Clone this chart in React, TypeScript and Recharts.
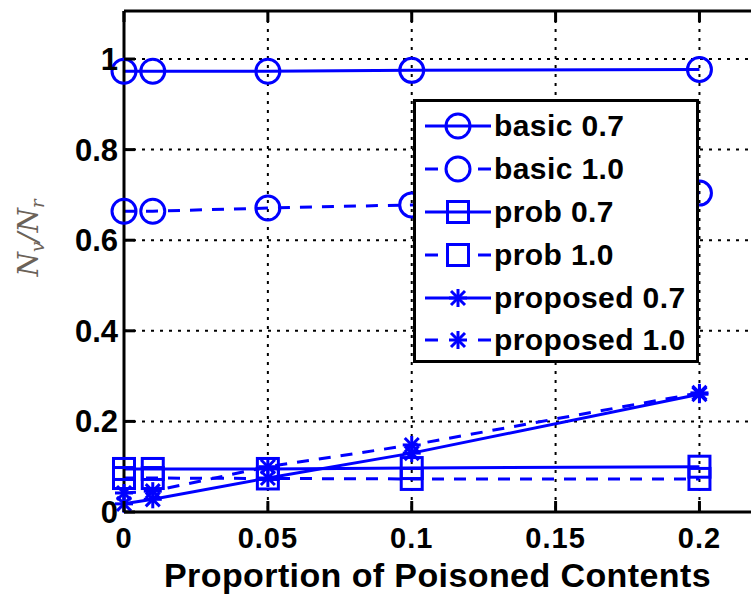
import React from "react";
import {
  LineChart,
  Line,
  XAxis,
  YAxis,
  CartesianGrid,
  Legend,
  ReferenceLine,
  Label,
} from "recharts";

const xValues = [0, 0.01, 0.05, 0.1, 0.2];
const basic07 = [0.973, 0.973, 0.973, 0.975, 0.977];
const basic10 = [0.664, 0.664, 0.671, 0.678, 0.704];
const prob07 = [0.095, 0.095, 0.095, 0.097, 0.1];
const prob10 = [0.075, 0.075, 0.074, 0.073, 0.073];
const proposed07 = [0.018, 0.028, 0.075, 0.13, 0.26];
const proposed10 = [0.042, 0.046, 0.1, 0.148, 0.263];

const xTicks = [0, 0.05, 0.1, 0.15, 0.2];
const yTicks = [0, 0.2, 0.4, 0.6, 0.8, 1];
const X_MAX = 0.22;
const Y_MAX = 1.106;

const BLUE = "#0000ff";
const FONT = "'Liberation Sans', Arial, sans-serif";
const PLOT_TOP = 11;
const DASH = "12 10";

const data = xValues.map((x, i) => ({
  x,
  basic07: basic07[i],
  basic10: basic10[i],
  prob07: prob07[i],
  prob10: prob10[i],
  proposed07: proposed07[i],
  proposed10: proposed10[i],
}));

type Shape = "circle" | "square" | "star";

const series: { key: string; name: string; shape: Shape; dashed: boolean }[] = [
  { key: "basic07", name: "basic 0.7", shape: "circle", dashed: false },
  { key: "basic10", name: "basic 1.0", shape: "circle", dashed: true },
  { key: "prob07", name: "prob 0.7", shape: "square", dashed: false },
  { key: "prob10", name: "prob 1.0", shape: "square", dashed: true },
  { key: "proposed07", name: "proposed 0.7", shape: "star", dashed: false },
  { key: "proposed10", name: "proposed 1.0", shape: "star", dashed: true },
];

function Marker({ cx, cy, shape }: { cx: number; cy: number; shape: Shape }) {
  if (shape === "circle") {
    return <circle cx={cx} cy={cy} r={12} fill="none" stroke={BLUE} strokeWidth={3} />;
  }
  if (shape === "square") {
    return (
      <rect x={cx - 10.5} y={cy - 10.5} width={21} height={21} fill="none" stroke={BLUE} strokeWidth={3} />
    );
  }
  const s = 9;
  return (
    <g stroke={BLUE} strokeWidth={3}>
      <line x1={cx - s} y1={cy} x2={cx + s} y2={cy} />
      <line x1={cx} y1={cy - s} x2={cx} y2={cy + s} />
      <line x1={cx - 7} y1={cy - 7} x2={cx + 7} y2={cy + 7} />
      <line x1={cx - 7} y1={cy + 7} x2={cx + 7} y2={cy - 7} />
    </g>
  );
}

const makeDot = (shape: Shape) => (props: any) =>
  <Marker key={props.key ?? `${shape}-${props.index}`} cx={props.cx} cy={props.cy} shape={shape} />;

const XTick = ({ x, y, payload }: any) => (
  <g>
    <line x1={x} y1={y} x2={x} y2={y - 11} stroke="#000" strokeWidth={3} />
    <line x1={x} y1={PLOT_TOP} x2={x} y2={PLOT_TOP + 11} stroke="#000" strokeWidth={3} />
    <text
      x={x}
      y={y + 36}
      textAnchor="middle"
      fontFamily={FONT}
      fontWeight="bold"
      fontSize={29}
      letterSpacing={1}
      fill="#000"
    >
      {String(payload.value)}
    </text>
  </g>
);

const YTick = ({ x, y, payload }: any) => (
  <g>
    <line x1={x} y1={y} x2={x + 11} y2={y} stroke="#000" strokeWidth={3} />
    <text x={x - 6} y={y + 11} textAnchor="end" fontFamily={FONT} fontWeight="bold" fontSize={31} fill="#000">
      {String(payload.value)}
    </text>
  </g>
);

const YLabel = () => (
  <text
    x={38}
    y={238}
    transform="rotate(-90, 38, 238)"
    textAnchor="middle"
    fontFamily="'DejaVu Serif', serif"
    fontStyle="italic"
    fontSize={28}
    fill="#6b6258"
  >
    N<tspan fontSize={18} dy={6}>v</tspan>
    <tspan dy={-6}>/N</tspan>
    <tspan fontSize={18} dy={6}>r</tspan>
  </text>
);

function LegendBox() {
  return (
    <div
      style={{
        width: 280,
        height: 255,
        border: "3px solid #000",
        background: "#fff",
        paddingTop: 3,
        boxSizing: "content-box",
      }}
    >
      {series.map((s) => (
        <div key={s.key} style={{ height: 42.8, display: "flex", alignItems: "center" }}>
          <svg width={77} height={40} style={{ flex: "none" }}>
            {s.dashed ? (
              <g stroke={BLUE} strokeWidth={3}>
                <line x1={9} y1={20} x2={22} y2={20} />
                <line x1={62} y1={20} x2={75} y2={20} />
              </g>
            ) : (
              <line x1={9} y1={20} x2={75} y2={20} stroke={BLUE} strokeWidth={3} />
            )}
            <Marker cx={42} cy={20} shape={s.shape} />
          </svg>
          <span
            style={{
              fontFamily: FONT,
              fontWeight: "bold",
              fontSize: 30,
              color: "#000",
              whiteSpace: "nowrap",
              marginLeft: 1,
              letterSpacing: 0.4,
            }}
          >
            {s.name}
          </span>
        </div>
      ))}
    </div>
  );
}

export default function App() {
  return (
    <div
      style={{
        position: "fixed",
        left: 0,
        top: 0,
        width: 751,
        height: 594,
        overflow: "hidden",
        background: "#fff",
      }}
    >
      <LineChart
        width={800}
        height={594}
        data={data}
        margin={{ top: PLOT_TOP, right: 43, left: 0, bottom: 0 }}
      >
        <CartesianGrid stroke="#000" strokeWidth={2} strokeDasharray="3 6" />
        <XAxis
          dataKey="x"
          type="number"
          domain={[0, X_MAX]}
          ticks={xTicks}
          height={82}
          tickSize={0}
          tickMargin={0}
          tickLine={false}
          axisLine={{ stroke: "#000", strokeWidth: 3 }}
          tick={<XTick />}
        >
          <Label
            value="Proportion of Poisoned Contents"
            position="insideBottom"
            offset={7}
            style={{ fontFamily: FONT, fontWeight: "bold", fontSize: 34, fill: "#000", letterSpacing: 0.4 }}
            dx={-3}
          />
        </XAxis>
        <YAxis
          type="number"
          domain={[0, Y_MAX]}
          ticks={yTicks}
          width={124}
          tickSize={0}
          tickMargin={0}
          tickLine={false}
          axisLine={{ stroke: "#000", strokeWidth: 3 }}
          tick={<YTick />}
        >
          <Label content={<YLabel />} />
        </YAxis>
        <ReferenceLine y={Y_MAX} stroke="#000" strokeWidth={3} />
        <ReferenceLine x={X_MAX} stroke="#000" strokeWidth={3} />
        {series.map((s) => (
          <Line
            key={s.key}
            type="linear"
            dataKey={s.key}
            name={s.name}
            stroke={BLUE}
            strokeWidth={3}
            strokeDasharray={s.dashed ? DASH : undefined}
            dot={makeDot(s.shape)}
            activeDot={false}
            isAnimationActive={false}
          />
        ))}
        <Legend
          layout="horizontal"
          verticalAlign="middle"
          align="center"
          content={() => <LegendBox />}
          wrapperStyle={{ left: 413, top: 99, width: 286, height: 261 }}
        />
      </LineChart>
    </div>
  );
}
